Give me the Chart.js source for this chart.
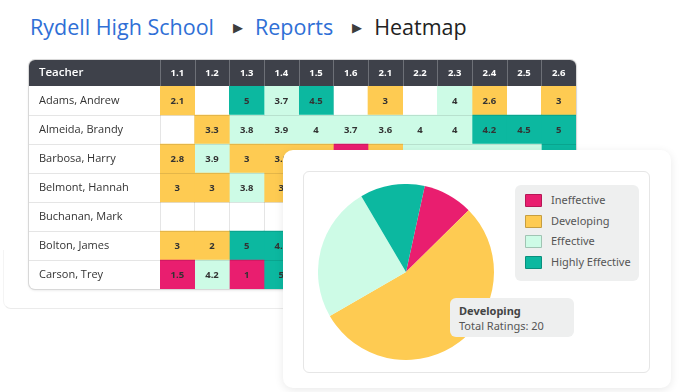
<!DOCTYPE html>
<html>
<head>
<meta charset="utf-8">
<script src="https://cdn.jsdelivr.net/npm/chart.js@4.4.1/dist/chart.umd.min.js"></script>
<style>
  body { margin: 0; width: 700px; height: 392px; overflow: hidden; background: #fff; position: relative;
         font-family: "Open Sans", "Noto Sans", sans-serif; }
  #crumbs { position: absolute; left: 30px; top: 12px; font-size: 21.5px; line-height: 30px; white-space: nowrap; }
  #crumbs .link { color: #2f6fd6; }
  #crumbs .here { color: #222; }
  #crumbs .sep { color: #3d3d3d; font-size: 13px; display: inline-block; margin: 0 12px 0 19px; vertical-align: 3px; }
  #pageEdge { position: absolute; left: 3px; top: 250px; width: 300px; height: 58px; border-bottom-left-radius: 8px;
              border-bottom: 1px solid #ebebeb; border-left: 1px solid #f4f4f4; }
  #heatWrap { position: absolute; left: 29px; top: 60px; width: 547px; height: 229px; border-radius: 6px;
              overflow: hidden; background: #fff; box-shadow: 0 0 0 1px #d8d8d8, 0 1px 3px rgba(0,0,0,0.14); }
  #pieCard { position: absolute; left: 283px; top: 150px; width: 388px; height: 238px; border-radius: 10px;
             background: #fff; box-shadow: 0 2px 10px rgba(0,0,0,0.09); }
  #pieInner { position: absolute; left: 20px; top: 21px; width: 345px; height: 200px; border-radius: 6px;
              border: 1px solid #e6e6e6; }
  #pieWrap { position: absolute; left: 318px; top: 184px; width: 176px; height: 176px; }
  #legend { position: absolute; left: 515px; top: 185px; width: 124px; height: 96px; border-radius: 6px;
            background: #eeefef; font-family: "Noto Sans", sans-serif; }
  #legend .item { position: absolute; left: 10px; height: 14px; font-size: 11px; color: #555; white-space: nowrap; }
  #legend .sw { position: absolute; left: 0; top: 0; width: 15px; height: 11px; border: 1px solid rgba(0,0,0,0.22); border-radius: 1px; }
  #legend .tx { position: absolute; left: 26px; top: -2px; line-height: 16px; }
  #tip { position: absolute; left: 450px; top: 298px; width: 124px; height: 39px; border-radius: 6px;
         background: #eeefef; font-family: "Noto Sans", sans-serif; font-size: 11px; color: #555; }
  #tip .t { position: absolute; left: 9px; top: 5px; font-weight: bold; color: #444; }
  #tip .b { position: absolute; left: 9px; top: 20px; }
</style>
</head>
<body>
<div id="pageEdge"></div>
<div id="crumbs"><span class="link">Rydell High School</span><span class="sep">&#9654;</span><span class="link">Reports</span><span class="sep">&#9654;</span><span class="here">Heatmap</span></div>
<div id="heatWrap"><canvas id="heatmap"></canvas></div>
<div id="pieCard"><div id="pieInner"></div></div>
<div id="pieWrap"><canvas id="pie"></canvas></div>
<div id="legend"></div>
<div id="tip"></div>
<script>
const teachers = ['Adams, Andrew', 'Almeida, Brandy', 'Barbosa, Harry', 'Belmont, Hannah', 'Buchanan, Mark', 'Bolton, James', 'Carson, Trey'];
const standards = ['1.1', '1.2', '1.3', '1.4', '1.5', '1.6', '2.1', '2.2', '2.3', '2.4', '2.5', '2.6'];

// score shown in each cell (null = no rating)
const scores = [
    [2.1, null, 5, 3.7, 4.5, null, 3, null, 4, 2.6, null, 3],
    [null, 3.3, 3.8, 3.9, 4, 3.7, 3.6, 4, 4, 4.2, 4.5, 5],
    [2.8, 3.9, 3, 3.2, 3.1, 1.8, 2.9, 3.8, 4, 3.9, 3.7, 4.6],
    [3, 3, 3.8, 3, 3.4, 3.9, 2.8, 4, 3.6, 4.1, 3.8, 3.2],
    [null, null, null, null, null, null, null, null, null, null, null, null],
    [3, 2, 5, 4.5, 3.9, 3, 4.6, 2.5, 3.8, 4, 5, 3.5],
    [1.5, 4.2, 1, 5, 2, 3.9, 1.8, 3, 4.1, 2.4, 3.7, 4.8]
];
// rating level of each cell: 0 ineffective, 1 developing, 2 effective, 3 highly effective
const levels = [
    [1, null, 3, 2, 3, null, 1, null, 2, 1, null, 1],
    [null, 1, 2, 2, 2, 2, 2, 2, 2, 3, 3, 3],
    [1, 2, 1, 1, 1, 0, 1, 2, 2, 2, 2, 3],
    [1, 1, 2, 1, 1, 2, 1, 2, 2, 2, 2, 1],
    [null, null, null, null, null, null, null, null, null, null, null, null],
    [1, 1, 3, 3, 2, 1, 3, 1, 2, 2, 3, 1],
    [0, 2, 0, 3, 1, 2, 0, 1, 2, 1, 2, 3]
];

const ratingLevels = ['Ineffective', 'Developing', 'Effective', 'Highly Effective'];
const ratingCounts = [3.4, 20, 9.2, 4.4];
const levelColors = ['#e91e6f', '#fecb52', '#cdfbe6', '#0cb8a0'];

Chart.defaults.font.family = '"Open Sans", "Noto Sans", sans-serif';

const tablePlugin = {
    id: 'tablePlugin',
    beforeDraw(chart) {
        const ctx = chart.ctx;
        const area = chart.chartArea;
        const xs = chart.scales.x;
        ctx.save();
        ctx.fillStyle = '#3e414a';
        ctx.fillRect(0, 0, chart.width, area.top);
        ctx.strokeStyle = '#6d7077';
        ctx.lineWidth = 1;
        for (let c = 0; c <= standards.length; c++) {
            const px = Math.round(xs.getPixelForValue(c)) + 0.5;
            ctx.beginPath();
            ctx.moveTo(px, 0);
            ctx.lineTo(px, area.top);
            ctx.stroke();
        }
        ctx.fillStyle = '#fff';
        ctx.font = '600 11.5px "Open Sans", sans-serif';
        ctx.textBaseline = 'middle';
        ctx.fillText('Teacher', 10, area.top / 2);
        ctx.restore();
    },
    afterDatasetsDraw(chart) {
        const ctx = chart.ctx;
        const area = chart.chartArea;
        ctx.save();
        ctx.font = 'bold 9.5px "Open Sans", sans-serif';
        ctx.fillStyle = '#333';
        ctx.textAlign = 'center';
        ctx.textBaseline = 'middle';
        chart.data.datasets.forEach((ds, c) => {
            chart.getDatasetMeta(c).data.forEach((bar, r) => {
                const v = scores[r][c];
                if (v == null) return;
                ctx.fillText(String(v), (bar.x + bar.base) / 2, bar.y + 0.5);
            });
        });
        const rowH = (area.bottom - area.top) / teachers.length;
        ctx.strokeStyle = 'rgba(0,0,0,0.1)';
        ctx.lineWidth = 1;
        for (let r = 1; r < teachers.length; r++) {
            const py = Math.round(area.top + r * rowH) + 0.5;
            ctx.beginPath();
            ctx.moveTo(0, py);
            ctx.lineTo(chart.width, py);
            ctx.stroke();
        }
        ctx.restore();
    }
};

new Chart(document.getElementById('heatmap'), {
    type: 'bar',
    data: {
        labels: teachers,
        datasets: standards.map((s, c) => ({
            label: s,
            xAxisID: 'x',
            yAxisID: 'y',
            data: teachers.map((t, r) => scores[r][c] == null ? null : [c, c + 1]),
            backgroundColor: teachers.map((t, r) => levels[r][c] == null ? 'rgba(0,0,0,0)' : levelColors[levels[r][c]]),
            borderWidth: 0
        }))
    },
    options: {
        animation: false,
        responsive: true,
        maintainAspectRatio: false,
        indexAxis: 'y',
        layout: { padding: { left: 10 } },
        datasets: { bar: { grouped: false, categoryPercentage: 1, barPercentage: 1 } },
        plugins: { legend: { display: false }, tooltip: { enabled: false } },
        scales: {
            x: { type: 'linear', min: 0, max: 12, display: false },
            x2: {
                type: 'category',
                labels: standards,
                position: 'top',
                offset: true,
                z: 1,
                grid: { offset: true, color: 'rgba(0,0,0,0.1)', drawTicks: false },
                border: { display: false },
                ticks: { color: '#fff', font: { size: 9.5, weight: 'bold' }, padding: 7 },
                afterFit(scale) { scale.height = 26; scale.paddingLeft = 0; scale.paddingRight = 0; }
            },
            y: {
                type: 'category',
                grid: { display: false },
                border: { display: false },
                ticks: { color: '#333', crossAlign: 'far', font: { size: 11 } },
                afterFit(scale) { scale.width = 121; scale.paddingTop = 0; scale.paddingBottom = 0; }
            }
        }
    },
    plugins: [tablePlugin]
});

new Chart(document.getElementById('pie'), {
    type: 'pie',
    data: {
        labels: ratingLevels,
        datasets: [{ data: ratingCounts, backgroundColor: levelColors, borderWidth: 0, hoverOffset: 0 }]
    },
    options: {
        animation: false,
        responsive: true,
        maintainAspectRatio: false,
        rotation: 12.3,
        plugins: { legend: { display: false }, tooltip: { enabled: false } }
    }
});

// legend box
const legend = document.getElementById('legend');
ratingLevels.forEach((name, i) => {
    const item = document.createElement('div');
    item.className = 'item';
    item.style.top = (9 + i * 20.7) + 'px';
    item.innerHTML = `<span class="sw" style="background:${levelColors[i]}"></span><span class="tx">${name}</span>`;
    legend.appendChild(item);
});

// tooltip for the hovered slice
const hovered = 1;
document.getElementById('tip').innerHTML =
    `<div class="t">${ratingLevels[hovered]}</div><div class="b">Total Ratings: ${ratingCounts[hovered]}</div>`;
</script>
</body>
</html>
